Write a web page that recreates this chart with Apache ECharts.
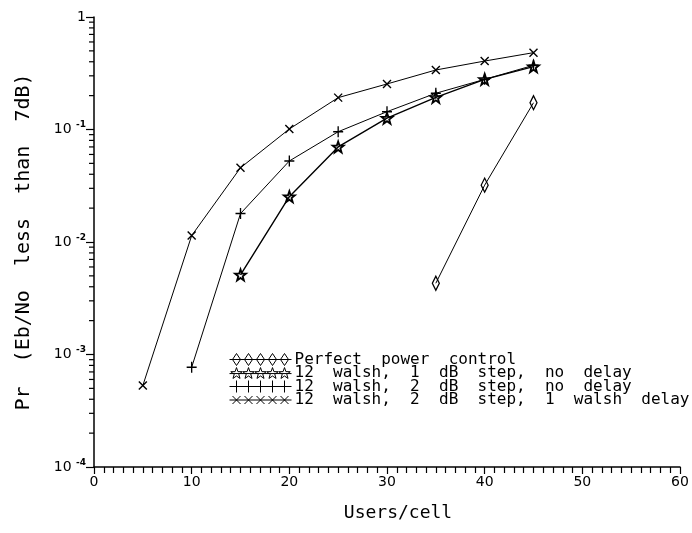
<!DOCTYPE html>
<html lang="en">
<head>
<meta charset="UTF-8">
<title>Pr vs users per cell</title>
<script src="https://cdn.jsdelivr.net/npm/echarts@6/dist/echarts.min.js"></script>
<style>
  html, body { margin: 0; padding: 0; background: #fff; }
</style>
</head>
<body>
<div id="main" style="width: 692px; height: 533px;"></div>
<script type="text/javascript">
// values (Users/cell, Pr)
const seriesNames = [
  'Perfect power control',
  '12 walsh, 1 dB step, no delay',
  '12 walsh, 2 dB step, no delay',
  '12 walsh, 2 dB step, 1 walsh delay'
];
const perfectX = [35, 40, 45];
const perfectY = [0.0043, 0.032, 0.173];
const step1X = [15, 20, 25, 30, 35, 40, 45];
const step1Y = [0.0051, 0.0253, 0.070, 0.126, 0.193, 0.279, 0.362];
const step2X = [10, 15, 20, 25, 30, 35, 40, 45];
const step2Y = [0.00077, 0.0179, 0.0525, 0.0955, 0.144, 0.21, 0.279, 0.372];
const delayX = [5, 10, 15, 20, 25, 30, 35, 40, 45];
const delayY = [0.00053, 0.0114, 0.0457, 0.101, 0.192, 0.254, 0.338, 0.406, 0.482];
// minor ticks of the log axis: 2..9 in each decade
const minorTickValues = [];
[-4, -3, -2, -1].forEach(e => {
  for (let k = 2; k <= 9; k++) minorTickValues.push(k * Math.pow(10, e));
});

const font = 'DejaVu Sans';
const monoFont = 'DejaVu Sans Mono';
// the plotter font has wide word gaps
const wide = s => s.split(' ').join('  ');

// marker shapes, centred on (0,0)
const starPts = [[0,-10],[2.35,-3.24],[9.51,-3.09],[3.8,1.24],[5.88,8.09],[0,4],[-5.88,8.09],[-3.8,1.24],[-9.51,-3.09],[-2.35,-3.24]];
function starPath(cx, cy, s) {
  return starPts.map((p, i) => (i ? 'L' : 'M') + (cx + p[0] * s).toFixed(2) + ',' + (cy + p[1] * s).toFixed(2)).join(' ') + ' Z';
}
function diamondPath(cx, cy, w, h) {
  return 'M' + cx + ',' + (cy - h) + ' L' + (cx + w) + ',' + cy + ' L' + cx + ',' + (cy + h) + ' L' + (cx - w) + ',' + cy + ' Z';
}
function plusPath(cx, cy, r) {
  return 'M' + cx + ',' + (cy - r) + ' L' + cx + ',' + (cy + r) + ' M' + (cx - r) + ',' + cy + ' L' + (cx + r) + ',' + cy;
}
function crossPath(cx, cy, r) {
  return 'M' + (cx - r) + ',' + (cy - r) + ' L' + (cx + r) + ',' + (cy + r) + ' M' + (cx - r) + ',' + (cy + r) + ' L' + (cx + r) + ',' + (cy - r);
}
const markerFns = [
  (cx, cy) => diamondPath(cx, cy, 4, 6),
  (cx, cy) => starPath(cx, cy, 0.6),
  (cx, cy) => plusPath(cx, cy, 6),
  (cx, cy) => crossPath(cx, cy, 4)
];
function legendIcon(i) {
  let d = 'M0,6 L62,6';
  for (let k = 0; k < 5; k++) d += ' ' + markerFns[i](7 + k * 12, 6);
  return 'path://' + d;
}

const chart = echarts.init(document.getElementById('main'));

const pair = (xs, ys) => xs.map((x, i) => [x, ys[i]]);

const symbols = [
  { symbol: 'path://' + diamondPath(0, 0, 4, 7), size: [7, 14] },
  { symbol: 'path://' + starPath(0, 0, 1), size: [11, 11] },
  { symbol: 'path://' + plusPath(0, 0, 6), size: [10, 11] },
  { symbol: 'path://' + crossPath(0, 0, 5), size: [8, 8] }
];
const datasets = [pair(perfectX, perfectY), pair(step1X, step1Y), pair(step2X, step2Y), pair(delayX, delayY)];
const lineWidths = [1, 1.4, 1, 1];

const lineSeries = seriesNames.map((name, i) => ({
  name: name,
  type: 'line',
  data: datasets[i],
  symbol: symbols[i].symbol,
  symbolSize: symbols[i].size,
  showAllSymbol: true,
  lineStyle: { color: '#000', width: lineWidths[i] },
  itemStyle: { color: 'none', borderColor: '#000', borderWidth: i === 1 ? 1.8 : 1.4 },
  emphasis: { disabled: true },
  z: 3
}));

chart.setOption({
  animation: false,
  backgroundColor: '#fff',
  grid: { left: 94, right: 12, top: 17, bottom: 66 },
  legend: {
    orient: 'vertical',
    left: 222,
    top: 346,
    itemWidth: 62,
    itemHeight: 12,
    itemGap: -3,
    selectedMode: false,
    formatter: name => wide(name),
    textStyle: { fontFamily: monoFont, fontSize: 16, lineHeight: 13, color: '#000', padding: [0, 0, 0, -2] },
    data: seriesNames.map((name, i) => ({
      name: name,
      icon: legendIcon(i),
      itemStyle: { color: 'none', borderColor: '#000', borderWidth: 1 }
    }))
  },
  xAxis: {
    type: 'value',
    min: 0,
    max: 60,
    interval: 10,
    name: 'Users/cell',
    nameLocation: 'middle',
    nameGap: 37,
    nameTextStyle: { fontFamily: monoFont, fontSize: 18, color: '#000', padding: [0, 0, 0, 22] },
    axisLine: { show: true, onZero: false, lineStyle: { color: '#000', width: 1.5 } },
    axisTick: { show: true, length: 7, lineStyle: { color: '#000', width: 1.2 } },
    minorTick: { show: true, splitNumber: 10, length: 6, lineStyle: { color: '#000', width: 1.2 } },
    axisLabel: { fontFamily: font, fontSize: 14, color: '#000', margin: 8 },
    splitLine: { show: false }
  },
  yAxis: {
    type: 'log',
    logBase: 10,
    min: 1e-4,
    max: 1,
    name: wide('Pr (Eb/No less than 7dB)'),
    nameLocation: 'middle',
    nameGap: 60,
    nameTextStyle: { fontFamily: monoFont, fontSize: 20, color: '#000' },
    axisLine: { show: true, lineStyle: { color: '#000', width: 1.5 } },
    axisTick: { show: true, length: 8, lineStyle: { color: '#000', width: 1.2 } },
    axisLabel: {
      fontFamily: font,
      fontSize: 14,
      color: '#000',
      margin: 8,
      formatter: function (v) {
        const e = Math.round(Math.log10(v));
        return e === 0 ? '1' : '10 {s|' + e + '}';
      },
      rich: {
        s: { fontFamily: font, fontSize: 9, fontWeight: 'bold', color: '#000', padding: [0, 0, 9, 0] }
      }
    },
    splitLine: { show: false }
  },
  series: lineSeries.concat([{
    name: 'minor ticks',
    type: 'custom',
    silent: true,
    clip: false,
    data: minorTickValues.map(v => [0, v]),
    renderItem: function (params, api) {
      const p = api.coord([0, api.value(1)]);
      return {
        type: 'line',
        shape: { x1: p[0] - 5, y1: p[1], x2: p[0], y2: p[1] },
        style: { stroke: '#000', lineWidth: 1.2 }
      };
    },
    z: 1
  }])
});
</script>
</body>
</html>
